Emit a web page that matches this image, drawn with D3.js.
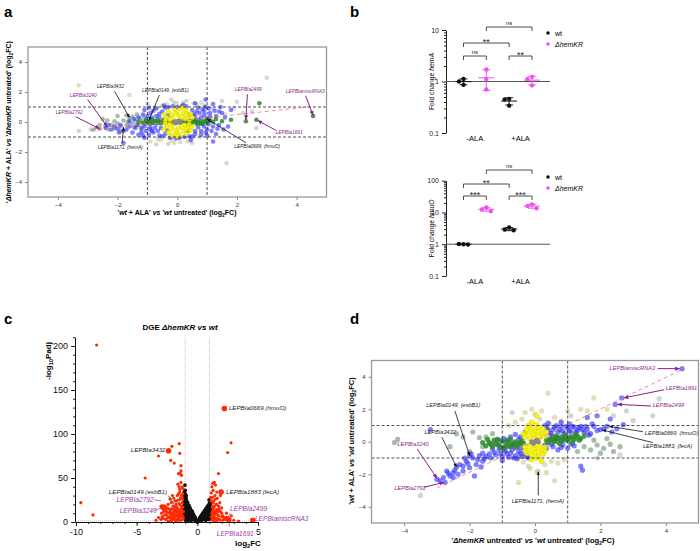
<!DOCTYPE html>
<html>
<head>
<meta charset="utf-8">
<script src="https://cdn.jsdelivr.net/npm/d3@7/dist/d3.min.js"></script>
<style>
  body { margin: 0; background: #fff; }
  text { font-family: "Liberation Sans", Arial, sans-serif; }
</style>
</head>
<body>
<div id="chart"></div>
<script>
// ---------- panel a : 'wt + ALA' vs 'wt' (x) against 'dhemKR + ALA' vs 'dhemKR' (y)
const aGray = [[3.0,2.95],[1.65,-2.75],[2.65,-0.4],[1.9,0.95],[2.0,1.35],[1.5,1.4],[-0.2,1.5],[0.5,-1.4],[-0.7,-1.5],[-0.3,-1.45],[-0.1,1.3],[0.9,1.1],[2.2,0.6],[2.5,0.7],[-2.9,-0.5],[-1.0,1.2],[0.3,1.4],[-3.3,-0.6],[1.2,0.9],[1.6,0.5]];
const aKhaki = [[0.2,1.3],[-0.2,-1.25],[0.5,-1.1],[-0.5,1.1],[0.65,1.15],[-0.65,-1.15],[0.1,-1.35],[-0.35,1.2],[0.35,-1.3],[0.75,-1.0],[-0.75,1.0],[0,1.25],[-0.1,-1.4],[-3.3,2.45],[-1.6,1.8],[-0.9,-1.3],[0.8,1.3],[-0.55,-1.2],[0.55,1.25]];
const aOlive = [[-2.8,-0.5],[-2.6,-0.45],[-2.4,-0.3],[-2.3,-0.5],[-2.2,-0.2],[-2.1,-0.4],[-2,-0.1],[-1.9,-0.3],[-1.8,0.1],[-1.7,-0.2],[-1.6,0.25],[-1.5,-0.1],[-1.4,0.1],[-1.3,-0.2],[-1.2,0.05],[-1.1,-0.15],[-1.5,0.35],[-1.7,0.45],[-2.5,0.2],[-2,0.4],[-1.35,0.5],[-1.2,-0.5],[-2.1,0.05],[-2.6,-0.2],[-1.9,-0.6],[-1.1,0.3],[-2.35,0.1],[-1.45,-0.35],[-1.25,0.25],[-1.65,0.0]];
const aBlue = [[-1.1,0.8],[-0.9,0.6],[-0.8,-0.7],[-0.7,0.9],[-0.6,-0.9],[-0.5,0.7],[-0.4,-0.8],[-0.3,1],[-0.2,-1],[0,1],[0.1,-1],[0.3,1.05],[0.4,-0.95],[0.5,0.8],[0.6,-0.8],[0.7,0.95],[0.8,-0.6],[0.9,0.7],[1,-0.5],[1.1,0.6],[1.2,-0.3],[1.3,0.4],[-1.2,-0.4],[-1,0.4],[-0.9,-0.35],[-0.7,0.4],[-0.75,-0.4],[-0.6,0.3],[-0.55,-0.4],[0.6,0.4],[0.7,-0.35],[0.8,0.3],[0.9,-0.3],[1,0.25],[0.55,0.55],[-0.6,0.55],[0.75,0.6],[-0.85,-0.6],[0.85,0.85],[-0.45,1.1],[0.2,1.15],[0.95,1.5],[0.6,1.25],[-0.05,-1.1],[0.45,-1.2],[-0.95,-0.85],[-1.05,0.15],[1.05,-0.15],[0.95,1.0],[-0.35,-0.55],[0.4,0.5],[-0.3,0.45],[0.35,-0.6],
  [-1.15,0.5],[-1.05,-0.6],[-0.95,0.95],[-0.85,0.3],[-0.65,-0.6],[-0.5,-0.95],[-0.4,0.95],[-0.15,1.05],[0.05,-1.05],[0.25,-1.0],[0.5,-0.95],[0.65,0.7],[0.8,-0.85],[0.95,-0.7],[1.05,0.9],[1.15,-0.6],[1.25,0.75],[1.35,-0.45],[1.1,0.35],[-1.1,-0.3],[-0.8,0.75],[0.7,0.15],[-0.7,-0.15],[0.9,0.45],[-0.9,-0.5],[0.6,-0.6],[-0.25,-1.05],[0.15,1.05],[1.4,0.7],[1.55,-0.5],[-1.45,0.2],[-1.95,-0.7],[-2.3,-0.2],[-1.15,-0.9],
  [-2.4,-0.4],[-2.2,-0.5],[-2.0,-0.45],[-1.9,-0.2],[-1.8,-0.6],[-1.7,-0.5],[-1.6,-0.3],[-1.5,-0.7],[-1.4,-0.4],[-1.3,-0.85],[-1.2,-0.7],[-1.6,0.05],[-1.3,0.3],[-1.8,-1.4],[-1.1,-1.05],[-2.1,-0.3],[-1.35,-0.2],
  [1.4,-0.2],[1.5,0.6],[1.6,0.3],[1.7,-0.3],[1.8,0.8],[1.2,1.2],[1.45,1.0],[1.0,-0.9],[1.3,-0.8],[1.2,-1.3]];
const aGreen = [[-1,0],[-0.9,0.05],[-0.8,-0.05],[-0.7,0.03],[-0.6,-0.02],[-0.5,0.06],[-0.4,-0.06],[-0.3,0.02],[-0.2,-0.04],[-0.1,0.05],[0,0],[0.1,-0.05],[0.2,0.04],[0.3,-0.03],[0.4,0.06],[0.5,-0.05],[0.6,0.03],[0.7,-0.04],[0.8,0.05],[0.9,0.02],[1,-0.03],[1.1,0.1],[-0.95,-0.1],[-0.75,0.1],[-0.55,-0.1],[0.55,0.1],[0.75,-0.1],[0.95,0.12],[-0.65,0.12],[0.65,-0.12],[-0.85,0.14],[0.85,-0.14],[-0.45,0.14],[0.45,-0.14],[1.3,0.2],[1.5,0.05],[1.8,0.15],[2.3,0.05],[2.65,0.15],[4.55,0.4],[2.75,1.25],
  [-1.05,0.05],[-0.85,-0.08],[-0.35,0.1],[-0.15,-0.1],[0.15,0.1],[0.35,-0.1],[0.6,0.12],[0.8,-0.1],[1.05,0.05],[1.2,0.02],[-1.15,-0.05],[-1.3,0.02]];
const aYellow = [[-0.35,0.3],[-0.2,0.5],[0,0.7],[0.2,0.6],[0.35,0.35],[-0.1,0.85],[0.1,0.9],[0.3,0.8],[-0.3,0.7],[-0.45,0.5],[0.45,0.55],[0.05,0.4],[-0.15,0.25],[0.25,0.2],[0.4,0.15],[-0.4,0.12],[0.15,0.3],[-0.05,0.55],[0.3,0.5],[-0.25,0.15],
  [-0.35,-0.3],[-0.2,-0.5],[0,-0.7],[0.2,-0.6],[0.35,-0.35],[-0.1,-0.85],[0.1,-0.9],[0.3,-0.8],[-0.3,-0.7],[-0.45,-0.5],[0.45,-0.55],[0.05,-0.4],[-0.15,-0.25],[0.25,-0.2],[0.4,-0.15],[-0.4,-0.12],[0.15,-0.3],[-0.05,-0.55],[0.3,-0.5],[-0.25,-0.15],[0,-0.95],[0.2,0.95],[-0.2,-0.92],[0.5,0.3],[0.5,-0.3]];
const aCenter = [[-0.1,0],[0,0.05],[0.1,-0.02],[0.05,0.08],[-0.05,-0.08]];
const aFit = [[-2.9,-0.55],[4.6,1.05]];

// ---------- panel d : 'dhemKR' vs 'wt' (x) against 'wt + ALA' vs 'wt' (y)
const dGray = [[-3.5,-3.3],[3.8,2.65],[3.6,1.6],[2.8,1.9],[3.0,1.3],[2.4,1.6],[-0.7,1.8],[1.1,1.6],[1.9,-1.0],[2.6,-0.8]];
const dKhaki = [[0.4,3.0],[-0.5,-2.5],[0.6,-2.4],[0.1,-1.8],[0.05,-1.85],[-0.3,1.8],[0.2,1.9],[1.8,2.7],[2.2,2.0],[1.6,1.9],[1.4,2.0],[-0.2,-1.5],[0.3,-1.4],[-0.4,1.4],[0.6,1.5],[0.8,1.3],[-0.6,1.2],[0.5,-1.2],[-0.1,2.0],[0.15,1.4],[0.35,-1.9],[-0.35,-1.25],[1.0,1.9],[0.9,-1.1],[-0.8,1.0],[0.7,-1.3],[0.0,1.7],[-0.15,-1.65],[0.45,1.1],[-0.5,-1.0]];
const dOlive = [[-2.2,0.3],[-1.9,0.6],[-1.7,0.25],[-2.4,0.5],[-1.6,-0.3],[-2.0,-0.6],[1.5,-0.3],[1.7,-0.5],[1.9,-0.2],[2.1,-0.4],[2.4,-0.6],[2.6,-0.3],[2.2,0.2],[1.8,0.1],[1.6,0.55],[2.0,-0.7],[-4.2,0.15],[-4.3,-0.05],[-1.3,0.5],[-1.5,0.3],[1.3,-0.6],[2.3,-0.15],[-2.6,-0.3]];
const dBlue = [[-1.2,-0.8],[-1.1,-0.5],[-1,-0.9],[-0.9,-0.6],[-0.8,-0.95],[-0.7,-0.5],[-0.6,-0.85],[-0.5,-0.6],[-0.4,-0.9],[-0.3,-0.75],[-0.55,-1.05],[-0.85,-0.3],[-1.15,-0.2],[-0.95,0.2],[-0.75,0.3],[-0.6,0.45],[-0.45,0.3],[-0.3,0.6],[-0.2,-1.0],[0.3,1.0],[0.4,0.75],[0.5,0.5],[0.6,0.9],[0.7,0.6],[0.8,0.95],[0.9,0.5],[1.0,0.85],[1.1,0.6],[1.2,0.9],[1.3,0.7],[1.4,0.95],[1.5,0.6],[1.6,0.8],[0.55,-0.3],[0.7,-0.5],[0.85,-0.2],[1.0,-0.4],[1.2,-0.25],[0.45,0.2],[0.65,0.25],[0.35,-0.4],[-0.7,-0.2],[-1.3,-0.45],[-1.4,-0.75],[-0.45,-0.35],[0.4,1.15],[0.8,1.2],[1.05,1.1],[-1.0,-1.15],[1.7,0.5],[1.8,0.95],[1.9,0.7],
  [-1.25,-0.65],[-1.05,-0.75],[-0.95,-0.45],[-0.85,-0.75],[-0.75,-0.7],[-0.65,-1.0],[-0.6,-0.35],[-0.45,-0.75],[-0.35,-0.55],[-0.25,-0.9],[-0.5,0.15],[-0.9,0.0],[-1.1,0.1],[0.35,0.85],[0.45,0.55],[0.55,0.75],[0.65,1.0],[0.75,0.75],[0.85,0.65],[0.95,0.95],[1.05,0.7],[1.15,0.95],[1.25,0.6],[1.35,0.85],[1.45,0.75],[1.55,0.95],[0.5,-0.15],[0.8,-0.35],[1.1,-0.15],[0.3,-0.2],[0.6,0.1],[0.9,0.1],[-1.35,-1.0],[-1.6,-0.7],[-1.75,-1.1],[-2.05,-1.35],[-2.15,-1.0],[-2.45,-1.75],[-2.65,-1.95],[-1.55,-1.05],[1.65,0.4],[2.1,0.8],[1.75,1.1],
  [-1.5,-0.9],[-1.6,-1.2],[-1.7,-0.85],[-1.8,-1.4],[-1.9,-1.0],[-2.0,-1.6],[-2.1,-1.2],[-2.2,-1.8],[-2.3,-1.4],[-2.4,-1.55],[-2.5,-1.9],[-2.6,-2.1],[-2.7,-1.8],[-2.8,-2.2],[-3.0,-2.3],[-2.9,-2.4],[-2.5,-2.2],[-2.2,-1.5],[-1.95,-0.75],[-1.65,-1.55],[-2.0,-0.85],[-3.2,0.75],[-2.35,-2.0],[-1.85,-2.1],[-2.75,-2.5],
  [2.65,2.7],[2.45,2.3],[4.5,4.5],[2.2,0.95],[2.0,0.75],[2.5,0.8],[2.7,1.05],[1.4,-1.5],[1.45,-1.75],[2.35,0.6],[2.3,1.4],[1.6,1.5],[1.9,1.6]];
const dGreen = [[-1.5,-0.25],[-1.4,-0.05],[-1.3,-0.3],[-1.2,-0.1],[-1.1,-0.2],[-1,0.05],[-0.9,-0.25],[-0.8,-0.05],[-0.7,-0.2],[-0.6,0],[-0.5,-0.15],[-0.4,0.05],[-0.35,-0.1],[0.35,0.1],[0.4,-0.05],[0.5,0.15],[0.6,0],[0.7,0.2],[0.8,0.05],[0.9,0.25],[1,0.1],[1.1,0.3],[1.2,0.15],[1.3,0.35],[1.4,0.2],[-1.25,0.1],[-0.95,-0.4],[-0.75,0.15],[-0.55,-0.3],[0.55,0.3],[0.75,-0.1],[0.95,0.4],[1.15,-0.05],[-1.05,-0.35],[0.65,0.35],[1.25,0.45],
  [-1.45,0.15],[-1.15,0.15],[-0.85,0.1],[-0.65,-0.1],[-0.45,-0.05],[0.45,0.05],[0.65,0.15],[0.85,0.15],[1.05,0.2],[1.35,0.1],[-1.35,-0.15],[-0.75,-0.3],[1.2,0.3],[0.8,0.3],[-1.6,-0.05],[1.5,0.35]];
const dYellow = [[-0.3,0.3],[-0.2,0.55],[-0.1,0.8],[0,0.65],[0.1,0.9],[0.2,0.5],[0.3,0.35],[-0.25,0.75],[0.25,0.8],[0,0.35],[-0.15,0.2],[0.15,0.25],[0.05,1.05],[-0.05,0.45],[0.35,0.6],[-0.35,0.5],[0.1,0.6],[-0.1,1.2],[0.05,1.6],[-0.2,1.0],
  [-0.3,-0.3],[-0.2,-0.55],[-0.1,-0.8],[0,-0.65],[0.1,-0.9],[0.2,-0.5],[0.3,-0.35],[-0.25,-0.7],[0.25,-0.75],[0,-0.35],[-0.15,-0.2],[0.15,-0.25],[0.05,-1.0],[-0.05,-0.45],[0.3,-0.6],[-0.3,-0.55],[0.1,-0.6],[-0.1,-1.1],[0.2,-1.2]];
const dCenter = [[0,0],[0.05,0.08],[-0.05,-0.08],[0.1,0],[-0.1,0]];
const dFit = [[-3,-2.85],[4.5,4.45]];

// ---------- panel b : qRT-PCR fold changes (wt / dhemKR, -ALA / +ALA)
const groupKeys = ['wt-', 'ko-', 'wt+', 'ko+'];
const hemA = [[1.12, 1.0, 0.86], [1.71, 1.12, 0.70], [0.46, 0.45, 0.34], [1.23, 1.12, 0.84]];
const hmuO = [[1.0, 1.02, 0.98], [14.5, 12.5, 11], [3.4, 2.9, 2.75], [18, 16, 13.5]];
const conditions = ['-ALA', '+ALA'];

// ---------- panel c : volcano plot
const cBlack = [[-0.1,1],[-0.15,3],[-0.2,2],[-0.2,5],[-0.25,4],[-0.3,8],[-0.3,3],[-0.35,6],[-0.4,10],[-0.4,4],[-0.45,8],[-0.5,13],[-0.5,6],[-0.5,2],[-0.55,10],[-0.6,16],[-0.6,8],[-0.6,3],[-0.65,13],[-0.7,19],[-0.7,11],[-0.7,5],[-0.75,15],[-0.75,2],[-0.8,22],[-0.8,14],[-0.8,7],[-0.85,18],[-0.85,10],[-0.85,3],[-0.9,25],[-0.9,15],[-0.9,6],[-0.95,28],[-0.95,20],[-0.95,11],[-0.95,2],[-1,32],[-1,24],[-1,16],[-1,8],[-1.02,42],[-1.05,27],[-1.05,19],[-1.05,12],[-1.05,4],[-1.1,22],[-1.1,14],[-1.1,7],[-1.0,36],[-0.92,30],[-1.08,34],
  [-0.12,2],[-0.18,4],[-0.22,6],[-0.28,6],[-0.33,9],[-0.38,7],[-0.42,12],[-0.48,11],[-0.52,4],[-0.57,14],[-0.62,12],[-0.67,16],[-0.72,14],[-0.77,18],[-0.78,9],[-0.82,20],[-0.83,12],[-0.87,22],[-0.88,6],[-0.92,17],[-0.93,9],[-0.97,24],[-0.98,14],[-1.02,20],[-1.03,30],[-1.07,24],[-1.12,18],[-1.12,10],[-0.97,5],
  [0.1,1],[0.15,3],[0.2,2],[0.25,5],[0.3,4],[0.3,7],[0.35,2],[0.4,9],[0.4,4],[0.45,6],[0.5,11],[0.5,3],[0.55,8],[0.6,13],[0.6,5],[0.65,10],[0.7,15],[0.7,7],[0.7,2],[0.75,12],[0.8,17],[0.8,9],[0.8,4],[0.85,14],[0.9,19],[0.9,11],[0.9,5],[0.95,16],[0.95,8],[1,21],[1,13],[1,3],[1.05,18],[1.05,9],[0.97,25],[0.05,0.5],[-0.05,0.5],[0,0.3],
  [0.12,2],[0.18,4],[0.22,5],[0.28,3],[0.33,6],[0.38,7],[0.42,8],[0.48,9],[0.52,6],[0.57,11],[0.62,9],[0.67,13],[0.72,11],[0.77,15],[0.78,6],[0.82,14],[0.83,11],[0.87,17],[0.88,7],[0.92,15],[0.93,3],[0.97,19],[0.98,11],[1.02,17],[1.03,6],[1.07,14],[1.08,21],[1.1,10]];
const cRed = [[-1.2,3],[-1.3,6],[-1.4,10],[-1.5,4],[-1.6,15],[-1.7,8],[-1.8,12],[-1.9,5],[-2.0,18],[-2.1,9],[-2.2,14],[-2.3,6],[-2.4,20],[-2.5,11],[-2.6,3],[-2.7,8],[-2.8,4],[-2.95,10],[-3.2,5],[-3.4,2],[-1.25,22],[-1.35,28],[-1.45,34],[-1.2,38],[-1.55,25],[-1.65,30],[-1.75,20],[-1.85,24],[-1.95,27],[-2.05,30],[-2.15,22],[-2.25,26],[-1.3,16],[-1.4,19],[-1.5,12],[-1.6,2],[-1.7,17],[-1.8,1],[-1.9,14],[-2.0,7],[-2.1,2],[-2.2,4],[-2.3,10],[-2.4,1],[-2.5,16],[-2.6,13],[-2.8,18],[-3.0,18],[-1.15,12],[-1.2,26],[-1.25,40],[-1.35,45],[-1.5,40],[-1.3,53],[-1.4,55],[-1.35,58],[-1.6,43],[-1.45,2],
  [-1.15,5],[-1.2,17],[-1.25,8],[-1.3,11],[-1.35,2],[-1.4,14],[-1.45,7],[-1.5,21],[-1.55,9],[-1.6,6],[-1.65,11],[-1.7,3],[-1.75,13],[-1.8,7],[-1.85,17],[-1.9,9],[-1.95,3],[-2.0,11],[-2.05,5],[-2.1,15],[-2.15,8],[-2.2,1],[-2.25,12],[-2.35,15],[-2.45,5],[-2.55,8],[-2.65,18],[-2.75,12],[-2.9,6],[-3.0,3],[-1.2,32],[-1.3,30],[-1.4,26],[-1.45,37],[-1.55,32],[-1.7,24],
  [-1.49,89],[-3.2,75],[-2.2,70],[-1.9,67],[-1.45,78],[-2.1,86],[-4.3,50],[-8.3,201],[-9.6,22],[-8.6,8],[-1.35,64],[-1.55,55],
  [1.2,2],[1.3,6],[1.4,10],[1.5,4],[1.6,14],[1.7,8],[1.8,3],[1.9,12],[2.0,6],[2.1,2],[1.25,18],[1.35,24],[1.45,30],[1.55,20],[1.65,27],[1.75,18],[1.85,22],[1.2,40],[1.3,36],[1.4,45],[1.5,42],[1.1,28],[1.15,33],[1.74,55],[1.27,44],[2.78,90],[2.5,79],[2.2,5],[2.4,10],[2.6,3],[2.8,7],[3.0,2],[3.4,1],[1.4,1],[1.6,1],[1.25,12],[1.35,3],[1.9,30],[2.0,16],
  [1.15,6],[1.2,10],[1.25,4],[1.3,14],[1.35,8],[1.4,18],[1.45,5],[1.5,12],[1.55,9],[1.6,20],[1.65,4],[1.7,12],[1.75,7],[1.8,15],[1.9,2],[2.0,10],[2.1,7],[2.3,3],[1.15,24],[1.25,28],[1.35,16],[1.5,26],[1.6,34],[1.3,22]];
const cBig = [[2.23,129],[-2.37,81],[1.96,34],[-2.85,17],[-2.7,15],[4.57,2],[2.45,4],[2.6,2.5]];

// ---------- helpers
const svg = d3.select('#chart').append('svg').attr('width', 700).attr('height', 551);
const defs = svg.append('defs');
function marker(id, color) {
  defs.append('marker').attr('id', id).attr('viewBox', '0 0 10 10').attr('refX', 9).attr('refY', 5)
    .attr('markerWidth', 5).attr('markerHeight', 5).attr('orient', 'auto')
    .append('path').attr('d', 'M0,1L10,5L0,9z').attr('fill', color);
}
marker('arK', '#111');
marker('arP', '#8b1f8b');
const PURPLE = '#8b1f8b';

// text made of plain / italic / subscript parts
function rich(t, parts, size) {
  let wasSub = false;
  parts.forEach(p => {
    const s = t.append('tspan').text(p[0]);
    if (p[1] === 'i') s.attr('font-style', 'italic');
    if (p[1] === 's') { s.attr('font-size', size * 0.7).attr('dy', size * 0.3); wasSub = true; return; }
    if (wasSub) { s.attr('dy', -size * 0.3); wasSub = false; }
  });
  return t;
}

function scatterPanel(g, c) {
  const x = d3.scaleLinear().domain([-5, 5]).range([c.x0, c.x1]);
  const y = d3.scaleLinear().domain([-5, 5]).range([c.y1, c.y0]);
  const ax = g.append('g').attr('transform', `translate(0,${c.y1})`)
    .call(d3.axisBottom(x).tickValues([-4, -2, 0, 2, 4]).tickSize(3).tickSizeOuter(0));
  const ay = g.append('g').attr('transform', `translate(${c.x0},0)`)
    .call(d3.axisLeft(y).tickValues([-4, -2, 0, 2, 4]).tickSize(3).tickSizeOuter(0));
  [ax, ay].forEach(a => {
    a.select('.domain').remove();
    a.selectAll('line').attr('stroke', '#888');
    a.selectAll('text').attr('font-size', 6).attr('fill', '#333').attr('font-family', 'DejaVu Sans');
  });

  c.layers.forEach(L => {
    g.append('g').selectAll('circle').data(L.data).join('circle')
      .attr('cx', d => x(d[0])).attr('cy', d => y(d[1])).attr('r', c.r)
      .attr('fill', L.color).attr('fill-opacity', L.op)
      .attr('stroke', L.stroke || 'none').attr('stroke-opacity', 0.4).attr('stroke-width', 0.5);
  });

  // thresholds
  [-1, 1].forEach(v => {
    g.append('line').attr('x1', x(v)).attr('x2', x(v)).attr('y1', c.y0).attr('y2', c.y1)
      .attr('stroke', '#222').attr('stroke-width', 0.8).attr('stroke-dasharray', '3,2');
    g.append('line').attr('x1', c.x0).attr('x2', c.x1).attr('y1', y(v)).attr('y2', y(v))
      .attr('stroke', '#222').attr('stroke-width', 0.8).attr('stroke-dasharray', '3,2');
  });
  g.append('path').datum(c.fit).attr('d', d3.line().x(d => x(d[0])).y(d => y(d[1])))
    .attr('stroke', '#f07070').attr('stroke-width', 0.8).attr('stroke-dasharray', '4,3').attr('fill', 'none');

  g.append('rect').attr('x', c.x0).attr('y', c.y0).attr('width', c.x1 - c.x0).attr('height', c.y1 - c.y0)
    .attr('fill', 'none').attr('stroke', '#999').attr('stroke-width', 1.3);

  c.notes.forEach(n => {
    const col = n.p ? PURPLE : '#111';
    g.append('line').attr('x1', x(n.from[0])).attr('y1', y(n.from[1])).attr('x2', x(n.to[0])).attr('y2', y(n.to[1]))
      .attr('stroke', col).attr('stroke-width', n.p ? 1 : 0.8).attr('marker-end', `url(#${n.p ? 'arP' : 'arK'})`);
    g.append('text').attr('x', x(n.at[0])).attr('y', y(n.at[1])).attr('text-anchor', n.anchor || 'middle')
      .attr('dominant-baseline', 'middle').attr('font-size', c.fs).attr('font-style', 'italic')
      .attr('font-family', 'DejaVu Sans').attr('fill', n.p ? PURPLE : '#222').text(n.t);
  });
  return { x, y };
}

// ---------- panel letters
[['a', 4, 17], ['b', 350, 17], ['c', 4, 324], ['d', 350, 324]].forEach(l =>
  svg.append('text').attr('x', l[1]).attr('y', l[2]).attr('font-size', 15).attr('font-weight', 'bold').text(l[0]));

// ---------- panel a
const gA = svg.append('g');
scatterPanel(gA, {
  x0: 28, x1: 326.5, y0: 47, y1: 197, r: 2.3, fs: 4.8, fit: aFit,
  layers: [
    { data: aGray, color: '#b0b0b0', op: 0.55 },
    { data: aKhaki, color: '#c9c98f', op: 0.6 },
    { data: aOlive, color: '#708f70', op: 0.6 },
    { data: aBlue, color: '#2a2aff', op: 0.6 },
    { data: aGreen, color: '#2c8a2c', op: 0.85 },
    { data: aYellow, color: '#f5f500', op: 0.9, stroke: '#aaa000' },
    { data: aCenter, color: '#888', op: 1 }
  ],
  notes: [
    { t: 'LEPBIa3432', at: [-2.24, 2.33], from: [-2.1, 2.05], to: [-1.6, 0.3] },
    { t: 'LEPBIa3240', at: [-3.15, 1.73], from: [-3.0, 1.5], to: [-2.35, -0.3], p: 1 },
    { t: 'LEPBIa2792', at: [-3.62, 0.6], from: [-3.4, 0.35], to: [-2.6, -0.45], p: 1 },
    { t: 'LEPBIa1171, (hemA)', at: [-1.91, -1.73], from: [-1.85, -1.42], to: [-1.8, -0.35] },
    { t: 'LEPBIa0149, (esbB1)', at: [-0.4, 2.07], from: [-0.6, 1.8], to: [-0.95, 0.1] },
    { t: 'LEPBIa0669, (hmuO)', at: [2.68, -1.67], from: [2.3, -1.38], to: [1.0, 0.2] },
    { t: 'LEPBIa2499', at: [2.38, 2.13], from: [2.35, 1.85], to: [2.3, 0.15], p: 1 },
    { t: 'LEPBIamiscRNA3', at: [4.29, 2.0], from: [4.3, 1.75], to: [4.55, 0.45], p: 1 },
    { t: 'LEPBIa1691', at: [3.75, -0.73], from: [3.3, -0.55], to: [2.7, 0.1], p: 1 }
  ]
});
rich(gA.append('text').attr('x', 177).attr('y', 215).attr('text-anchor', 'middle').attr('font-size', 7).attr('font-weight', 'bold'),
  [["'"], ['wt', 'i'], [" + ALA' "], ['vs', 'i'], [" '"], ['wt', 'i'], [" untreated' (log"], ['2', 's'], ['FC)']], 7);
rich(gA.append('text').attr('transform', 'translate(11,122) rotate(-90)').attr('text-anchor', 'middle').attr('font-size', 7).attr('font-weight', 'bold'),
  [["'"], ['ΔhemKR', 'i'], [" + ALA' "], ['vs', 'i'], [" '"], ['ΔhemKR', 'i'], [" untreated' (log"], ['2', 's'], ['FC)']], 7);

// ---------- panel d
const gD = svg.append('g');
scatterPanel(gD, {
  x0: 371.5, x1: 698.5, y0: 360.5, y1: 523, r: 2.6, fs: 5.6, fit: dFit,
  layers: [
    { data: dGray, color: '#b0b0b0', op: 0.55 },
    { data: dKhaki, color: '#c9c98f', op: 0.6 },
    { data: dOlive, color: '#708f70', op: 0.6 },
    { data: dBlue, color: '#2a2aff', op: 0.6 },
    { data: dGreen, color: '#2c8a2c', op: 0.85 },
    { data: dYellow, color: '#f5f500', op: 0.9, stroke: '#aaa000' },
    { data: dCenter, color: '#888', op: 1 }
  ],
  notes: [
    { t: 'LEPBIamiscRNA3', at: [3.67, 4.48], anchor: 'end', from: [3.75, 4.5], to: [4.42, 4.5], p: 1 },
    { t: 'LEPBIa1691', at: [4.0, 3.25], anchor: 'start', from: [3.95, 3.2], to: [2.72, 2.7], p: 1 },
    { t: 'LEPBIa2499', at: [3.6, 2.2], anchor: 'start', from: [3.55, 2.2], to: [2.52, 2.3], p: 1 },
    { t: 'LEPBIa0669, (hmuO)', at: [3.36, 0.48], anchor: 'start', from: [3.3, 0.62], to: [2.27, 0.95] },
    { t: 'LEPBIa1883, (fecA)', at: [3.3, -0.32], anchor: 'start', from: [3.6, -0.05], to: [2.07, 0.72] },
    { t: 'LEPBIa0149, (esbB1)', at: [-2.5, 2.2], from: [-2.45, 1.9], to: [-2.0, -0.85] },
    { t: 'LEPBIa3432', at: [-2.9, 0.54], from: [-2.85, 0.28], to: [-2.4, -1.55] },
    { t: 'LEPBIa3240', at: [-3.73, -0.2], from: [-3.6, -0.45], to: [-3.0, -2.25], p: 1 },
    { t: 'LEPBIa2792', at: [-3.82, -2.9], from: [-3.4, -2.8], to: [-2.78, -2.5], p: 1 },
    { t: 'LEPBIa1171, (hemA)', at: [0.09, -3.65], from: [0.1, -3.3], to: [0.1, -1.85] }
  ]
});
rich(gD.append('text').attr('x', 533).attr('y', 543).attr('text-anchor', 'middle').attr('font-size', 7.5).attr('font-weight', 'bold'),
  [["'"], ['ΔhemKR', 'i'], [" untreated' "], ['vs', 'i'], [" '"], ['wt', 'i'], [" untreated' (log"], ['2', 's'], ['FC)']], 7.5);
rich(gD.append('text').attr('transform', 'translate(354,441) rotate(-90)').attr('text-anchor', 'middle').attr('font-size', 7.5).attr('font-weight', 'bold'),
  [["'"], ['wt', 'i'], [" + ALA' "], ['vs', 'i'], [" '"], ['wt', 'i'], [" untreated' (log"], ['2', 's'], ['FC)']], 7.5);

// ---------- panel b
function foldPanel(g, c) {
  const y = d3.scaleLog().domain(c.domain).range([c.yb, c.yt]);
  const x = d3.scalePoint().domain(groupKeys).range([463.5, 532]);
  const ax0 = 446;
  const decades = c.ticks;
  const minors = [];
  decades.slice(0, -1).forEach(d => { for (let k = 2; k <= 9; k++) minors.push(d * k); });
  const am = g.append('g').attr('transform', `translate(${ax0},0)`)
    .call(d3.axisLeft(y).tickValues(minors).tickFormat('').tickSize(2).tickSizeOuter(0));
  const aM = g.append('g').attr('transform', `translate(${ax0},0)`)
    .call(d3.axisLeft(y).tickValues(decades).tickFormat(d => String(d)).tickSize(4).tickSizeOuter(0));
  am.select('.domain').remove();
  [am, aM].forEach(a => a.selectAll('line,path').attr('stroke', '#222'));
  aM.selectAll('text').attr('font-size', 7).attr('fill', '#222').attr('font-family', 'Liberation Sans');
  g.append('line').attr('x1', ax0).attr('x2', 550).attr('y1', y(1)).attr('y2', y(1)).attr('stroke', '#555').attr('stroke-width', 1);

  c.values.forEach((vals, gi) => {
    const col = gi % 2 ? '#f050f0' : '#111';
    const cx = x(groupKeys[gi]);
    const m = d3.mean(vals), sd = d3.deviation(vals);
    g.append('line').attr('x1', cx).attr('x2', cx).attr('y1', y(m + sd)).attr('y2', y(Math.max(m - sd, c.domain[0])))
      .attr('stroke', col).attr('stroke-width', 0.9);
    [m + sd, m - sd].forEach(v => g.append('line').attr('x1', cx - 4).attr('x2', cx + 4).attr('y1', y(v)).attr('y2', y(v))
      .attr('stroke', col).attr('stroke-width', 0.9));
    g.append('line').attr('x1', cx - 8).attr('x2', cx + 8).attr('y1', y(m)).attr('y2', y(m)).attr('stroke', col).attr('stroke-width', 1);
    const placed = [];
    vals.forEach(v => {
      const py = y(v);
      let off = 0;
      for (const o of [0, -4.5, 4.5, -9, 9]) {
        if (!placed.some(p => p.o === o && Math.abs(p.y - py) < 4.5)) { off = o; break; }
      }
      placed.push({ o: off, y: py });
      g.append('circle').attr('cx', cx + off).attr('cy', py).attr('r', 2.2).attr('fill', col);
    });
  });

  c.brackets.forEach(b => {
    const x1 = x(groupKeys[b[0]]), x2 = x(groupKeys[b[1]]);
    g.append('path').attr('d', `M${x1},${b[2] + 4}V${b[2]}H${x2}V${b[2] + 4}`)
      .attr('fill', 'none').attr('stroke', '#222').attr('stroke-width', 0.8);
    const star = b[3] !== 'ns';
    g.append('text').attr('x', (x1 + x2) / 2).attr('y', star ? b[2] + 2 : b[2] - 2.5)
      .attr('text-anchor', 'middle').attr('font-size', star ? 9 : 6).attr('fill', '#222').text(b[3]);
  });

  conditions.forEach((cn, i) => {
    const cx = (x(groupKeys[2 * i]) + x(groupKeys[2 * i + 1])) / 2;
    g.append('text').attr('x', cx).attr('y', c.yb + 8).attr('text-anchor', 'middle').attr('font-size', 7.5).text(cn);
  });

  rich(g.append('text').attr('transform', `translate(434,${(c.yt + c.yb) / 2}) rotate(-90)`).attr('text-anchor', 'middle')
    .attr('font-size', 6.8), [['Fold change '], [c.gene, 'i']], 6.8);

  // legend
  [['wt', '#111', []], ['ΔhemKR', '#f050f0', ['i']]].forEach((L, i) => {
    const ly = c.legY + i * 11;
    g.append('circle').attr('cx', 548).attr('cy', ly).attr('r', 1.8).attr('fill', L[1]);
    g.append('text').attr('x', 555).attr('y', ly + 2.5).attr('font-size', 7)
      .attr('font-style', L[2].length ? 'italic' : 'normal').text(L[0]);
  });
}
foldPanel(svg.append('g'), {
  domain: [0.1, 10], yb: 133, yt: 30, ticks: [0.1, 1, 10], values: hemA, gene: 'hemA', legY: 33,
  brackets: [[0, 1, 56, 'ns'], [0, 2, 43, '**'], [2, 3, 56, '**'], [1, 3, 27, 'ns']]
});
foldPanel(svg.append('g'), {
  domain: [0.1, 100], yb: 276, yt: 180.7, ticks: [0.1, 1, 10, 100], values: hmuO, gene: 'hmuO', legY: 177,
  brackets: [[0, 1, 196, '***'], [0, 2, 184, '**'], [2, 3, 196, '***'], [1, 3, 170, 'ns']]
});

// ---------- panel c
const gC = svg.append('g');
const cx = d3.scaleLinear().domain([-10, 5]).range([76, 258]);
const cy = d3.scaleLinear().domain([0, 210]).range([522, 337.2]);
[-1, 1].forEach(v => gC.append('line').attr('x1', cx(v)).attr('x2', cx(v)).attr('y1', cy(0)).attr('y2', cy(210))
  .attr('stroke', '#bbb').attr('stroke-width', 0.9).attr('stroke-dasharray', '1,1'));
gC.append('line').attr('x1', cx(-10)).attr('x2', cx(5)).attr('y1', cy(1.3)).attr('y2', cy(1.3))
  .attr('stroke', '#bbb').attr('stroke-width', 0.9).attr('stroke-dasharray', '1,1');
gC.append('g').selectAll('circle').data(cBlack).join('circle')
  .attr('cx', d => cx(d[0])).attr('cy', d => cy(d[1])).attr('r', 1.9).attr('fill', '#111');
gC.append('g').selectAll('circle').data(cRed).join('circle')
  .attr('cx', d => cx(d[0])).attr('cy', d => cy(d[1])).attr('r', 1.6).attr('fill', '#ff2a00');
gC.append('g').selectAll('circle').data(cBig).join('circle')
  .attr('cx', d => cx(d[0])).attr('cy', d => cy(d[1])).attr('r', 2.8).attr('fill', '#ff2a00');

const cxMinor = d3.range(-10, 6, 1), cyMinor = d3.range(0, 211, 10);
const cax = gC.append('g').attr('transform', `translate(0,${cy(0)})`);
cax.call(d3.axisBottom(cx).tickValues(cxMinor).tickFormat('').tickSize(2).tickSizeOuter(0));
const caxM = gC.append('g').attr('transform', `translate(0,${cy(0)})`)
  .call(d3.axisBottom(cx).tickValues([-10, -5, 0, 5]).tickFormat(d => String(d)).tickSize(4).tickSizeOuter(0));
const cay = gC.append('g').attr('transform', `translate(${cx(-10) - 1},0)`)
  .call(d3.axisLeft(cy).tickValues(cyMinor).tickFormat('').tickSize(2).tickSizeOuter(0));
const cayM = gC.append('g').attr('transform', `translate(${cx(-10) - 1},0)`)
  .call(d3.axisLeft(cy).tickValues([0, 50, 100, 150, 200]).tickFormat(d => String(d)).tickSize(4).tickSizeOuter(0));
[cax, caxM, cay, cayM].forEach(a => a.selectAll('line,path').attr('stroke', '#111').attr('stroke-width', 0.9));
[caxM, cayM].forEach(a => a.selectAll('text').attr('font-size', 9).attr('fill', '#111').attr('font-family', 'Liberation Sans'));

const cNotes = [
  { t: 'LEPBIa0669 (hmuO)', at: [2.6, 129], a: 'start' },
  { t: 'LEPBIa3432', at: [-2.62, 81], a: 'end' },
  { t: 'LEPBIa1883 (fecA)', at: [2.37, 34], a: 'start' },
  { t: 'LEPBIa0149 (esbB1)', at: [-2.5, 34], a: 'end', line: [[-2.4, 30], [-1.9, 20]] },
  { t: 'LEPBIa2792', at: [-3.6, 25], a: 'end', p: 1, line: [[-3.55, 25], [-3.0, 24]] },
  { t: 'LEPBIa3240', at: [-6.4, 12], a: 'start', p: 1, line: [[-3.55, 13], [-2.95, 16]] },
  { t: 'LEPBIa2499', at: [2.7, 14], a: 'start', p: 1, line: [[2.7, 10], [2.5, 4]] },
  { t: 'LEPBIamiscRNA3', at: [4.75, 3], a: 'start', p: 1 },
  { t: 'LEPBIa1691', at: [1.6, -14], a: 'start', p: 1, line: [[2.65, -5], [2.6, 1.5]] }
];
cNotes.forEach(n => {
  const col = n.p ? '#9a3aa8' : '#222';
  if (n.line) gC.append('path').datum(n.line).attr('d', d3.line().x(d => cx(d[0])).y(d => cy(d[1])))
    .attr('stroke', col).attr('stroke-width', 0.7).attr('fill', 'none');
  gC.append('text').attr('x', cx(n.at[0])).attr('y', cy(n.at[1])).attr('text-anchor', n.a)
    .attr('dominant-baseline', 'middle').attr('font-size', n.p ? 6.6 : 6.2).attr('font-style', 'italic')
    .attr('fill', col).text(n.t);
});
rich(gC.append('text').attr('x', 180).attr('y', 330).attr('text-anchor', 'middle').attr('font-size', 8).attr('font-weight', 'bold'),
  [['DGE '], ['ΔhemKR vs wt', 'i']], 8);
rich(gC.append('text').attr('transform', 'translate(51,361) rotate(-90)').attr('text-anchor', 'middle').attr('font-size', 8).attr('font-weight', 'bold'),
  [['-log'], ['10', 's'], ['Padj']], 8);
rich(gC.append('text').attr('x', 248).attr('y', 546).attr('text-anchor', 'middle').attr('font-size', 8).attr('font-weight', 'bold'),
  [['log'], ['2', 's'], ['FC']], 8);
</script>
</body>
</html>
